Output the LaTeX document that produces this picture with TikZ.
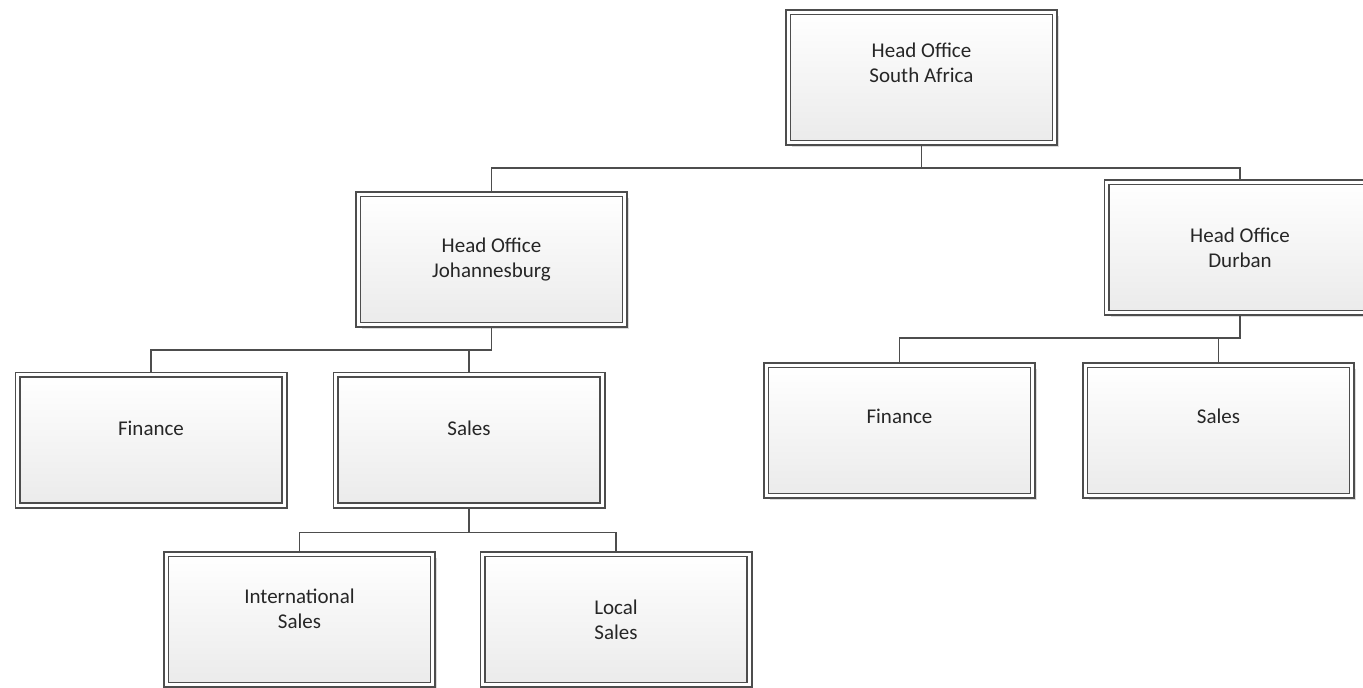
\documentclass[tikz,border=0pt]{standalone}
\usepackage{fontspec}
\setmainfont{Carlito}
\usetikzlibrary{shadows}
\definecolor{boxline}{HTML}{4D4D4D}
\tikzset{
    orgbox/.style={rectangle, draw=boxline, line width=1.7pt, double=white,
        double distance=3pt, outer sep=3.2pt, minimum width=266.6pt,
        minimum height=130.6pt, top color=white, bottom color=black!8,
        align=center, text=black!85, font=\fontsize{21}{25}\selectfont,
        drop shadow={shadow xshift=4pt, shadow yshift=-4pt, fill=black!14, opacity=1}},
    up/.style={text height=15pt, text depth=#1},
    link/.style={draw=boxline, line width=1.7pt}
}
\begin{document}
\begin{tikzpicture}[x=1pt,y=-1pt]
    \useasboundingbox (0,0) rectangle (1363,688);
    % boxes
    \node[orgbox, text height=15pt, text depth=6pt] (hosa) at (921.5,77.5) {Head Office\\South Africa};
    \node[orgbox]          (hojhb)    at (491.5,259.5) {Head Office\\Johannesburg};
    \node[orgbox]          (hodbn)    at (1240,247.5)  {Head Office\\Durban};
    \node[orgbox, up=25pt] (finjhb)   at (151,440)     {Finance};
    \node[orgbox, up=25pt] (salesjhb) at (469,440)     {Sales};
    \node[orgbox, up=30pt] (findbn)   at (899.5,430.5) {Finance};
    \node[orgbox, up=30pt] (salesdbn) at (1218.5,430.5) {Sales};
    \node[orgbox, text height=23pt, text depth=6pt] (intl) at (299.5,619.5) {International\\Sales};
    \node[orgbox]          (local)    at (616,619.5)   {Local\\Sales};

    % connectors
    \draw[link] (hosa.south) -- ++(0,22) -| (hojhb.north);
    \draw[link] (hosa.south) -- ++(0,22) -| (hodbn.north);
    \draw[link] (hojhb.south) -- ++(0,22) -| (finjhb.north);
    \draw[link] (hojhb.south) -- ++(0,22) -| (salesjhb.north);
    \draw[link] (hodbn.south) -- ++(0,22) -| (findbn.north);
    \draw[link] (hodbn.south) -- ++(0,22) -| (salesdbn.north);
    \draw[link] (salesjhb.south) -- ++(0,24) -| (intl.north);
    \draw[link] (salesjhb.south) -- ++(0,24) -| (local.north);
\end{tikzpicture}
\end{document}
